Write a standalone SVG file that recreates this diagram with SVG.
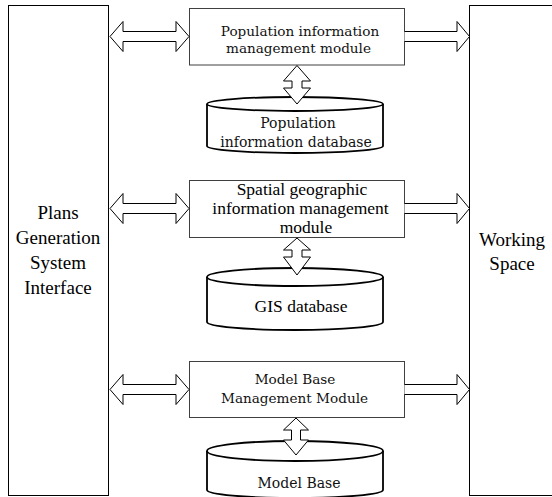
<svg xmlns="http://www.w3.org/2000/svg" width="552" height="497" viewBox="0 0 552 497">
<style>
.panel{fill:#fff;stroke:#000;stroke-width:1}
.box{fill:#fff;stroke:#404040;stroke-width:1}
.cyl{fill:#fff;stroke:#000;stroke-width:1.8}
.arr{fill:#fff;stroke:#000;stroke-width:1;stroke-linejoin:miter}
.t{font-family:"Liberation Serif","Times New Roman",serif;fill:#000;text-anchor:middle}
.d{font-family:"DejaVu Serif",serif;fill:#111;text-anchor:middle}
.big{font-size:19px}
.mid{font-size:17.5px}
.sm{font-size:13.6px}
.cs{font-size:14px}
</style>
<rect width="552" height="497" fill="#fff"/>
<g id="interface">
<rect class="panel" x="8.5" y="5.5" width="100" height="490"/>
<text class="t big" x="58" y="219">Plans</text>
<text class="t big" x="58" y="244">Generation</text>
<text class="t big" x="58" y="269">System</text>
<text class="t big" x="58" y="294">Interface</text>
</g>
<g id="workspace">
<rect class="panel" x="469.5" y="5.5" width="100" height="490"/>
<text class="t big" x="512" y="246">Working</text>
<text class="t big" x="512" y="270">Space</text>
</g>
<g id="popmodule">
<rect class="box" x="189.5" y="8.5" width="215" height="56.5"/>
<text class="d sm" x="300" y="35.5">Population information</text>
<text class="d sm" x="298.5" y="53">management module</text>
</g>
<g id="popdb">
<path class="cyl" d="M207,104 L207,146 A88,7 0 0 0 383,146 L383,104"/>
<ellipse class="cyl" cx="295" cy="104" rx="88" ry="7"/>
<text class="d cs" x="298" y="128">Population</text>
<text class="d cs" x="296" y="146.5">information database</text>
</g>
<g id="gismodule">
<rect class="box" x="189.5" y="180.5" width="215" height="57"/>
<text class="t mid" x="302" y="195">Spatial geographic</text>
<text class="t mid" x="300.5" y="214">information management</text>
<text class="t mid" x="306" y="233">module</text>
</g>
<g id="gisdb">
<path class="cyl" d="M207,277 L207,322 A88,8 0 0 0 383,322 L383,277"/>
<ellipse class="cyl" cx="295" cy="277" rx="88" ry="9"/>
<text class="t mid" x="301" y="311.5">GIS database</text>
</g>
<g id="modelmodule">
<rect class="box" x="189.5" y="361.5" width="215" height="56"/>
<text class="d sm" x="295" y="384">Model Base</text>
<text class="d sm" x="294.5" y="403">Management Module</text>
</g>
<g id="modeldb">
<path class="cyl" d="M207,451 L207,490 A88,8 0 0 0 383,490 L383,451"/>
<ellipse class="cyl" cx="295" cy="451" rx="88" ry="10"/>
<text class="d cs" x="299" y="488">Model Base</text>
</g>
<g id="connectors">
<path class="arr" d="M110,36.5 L123,21.5 L123,31.5 L176,31.5 L176,21.5 L189,36.5 L176,51.5 L176,41.5 L123,41.5 L123,51.5 Z"/>
<path class="arr" d="M110,208.5 L123,193.5 L123,203.5 L176,203.5 L176,193.5 L189,208.5 L176,223.5 L176,213.5 L123,213.5 L123,223.5 Z"/>
<path class="arr" d="M110,389.5 L123,374.5 L123,384.5 L176,384.5 L176,374.5 L189,389.5 L176,404.5 L176,394.5 L123,394.5 L123,404.5 Z"/>
<path class="arr" d="M404.5,31.5 L457,31.5 L457,21.5 L469.5,36.5 L457,51.5 L457,41.5 L404.5,41.5"/>
<path class="arr" d="M404.5,203.5 L457,203.5 L457,193.5 L469.5,208.5 L457,223.5 L457,213.5 L404.5,213.5"/>
<path class="arr" d="M404.5,384.5 L457,384.5 L457,374.5 L469.5,389.5 L457,404.5 L457,394.5 L404.5,394.5"/>
<path class="arr" d="M297,65.5 L310.5,81 L302,81 L302,88 L310.5,88 L297,104 L283.5,88 L292,88 L292,81 L283.5,81 Z"/>
<path class="arr" d="M297,238 L310.5,250 L302,250 L302,257 L310.5,257 L297,275 L283.5,257 L292,257 L292,250 L283.5,250 Z"/>
<path class="arr" d="M296,418 L308.5,430 L300.5,430 L300.5,440 L308.5,440 L296,455 L283.5,440 L291.5,440 L291.5,430 L283.5,430 Z"/>
</g>
</svg>
